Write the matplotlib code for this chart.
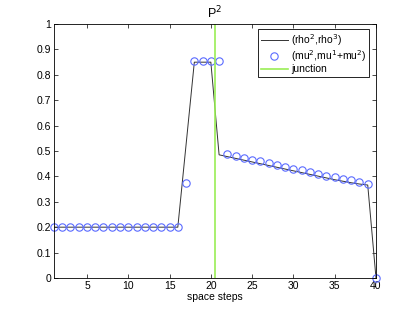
import matplotlib
matplotlib.use("Agg")
import matplotlib.pyplot as plt

plt.rcParams["font.family"] = ["Liberation Sans", "DejaVu Sans"]
plt.rcParams["font.size"] = 7.5

# line series (rho^2, rho^3)
line_x = [1, 2, 3, 4, 5, 6, 7, 8, 9, 10, 11, 12, 13, 14, 15, 16, 17, 18, 19, 20,
          21, 22, 23, 24, 25, 26, 27, 28, 29, 30, 31, 32, 33, 34, 35, 36, 37, 38, 39, 40]
line_y = [0.2] * 16 + [0.525, 0.85, 0.85, 0.85,
          0.485, 0.478, 0.471, 0.464, 0.457, 0.450, 0.443, 0.436, 0.429, 0.422,
          0.415, 0.408, 0.401, 0.394, 0.387, 0.381, 0.375, 0.370, 0.366, 0.0]

# marker series (mu^2, mu^1+mu^2)
mark_x = line_x
mark_y = [0.2] * 16 + [0.375, 0.855, 0.855, 0.855, 0.855,
          0.487, 0.480, 0.473, 0.466, 0.459, 0.452, 0.445, 0.438, 0.431,
          0.424, 0.417, 0.410, 0.403, 0.396, 0.390, 0.384, 0.377, 0.370, 0.0]

junction_x = 20.5

fig = plt.figure(figsize=(4.15, 3.13), dpi=100)
ax = fig.add_axes([0.130, 0.112, 0.776, 0.811])

ax.plot(line_x, line_y, color="#333333", linewidth=0.7, label="(rho$^2$,rho$^3$)")
ax.plot(mark_x, mark_y, linestyle="none", marker="o", markersize=5.3,
        markerfacecolor="none", markeredgecolor="#5a6bff", markeredgewidth=0.8,
        label="(mu$^2$,mu$^1$+mu$^2$)", clip_on=False)
ax.axvline(junction_x, color="#99ee55", linewidth=1.2, label="junction")

ax.set_xlim(1, 40)
ax.set_ylim(0, 1)
ax.set_xticks([5, 10, 15, 20, 25, 30, 35, 40])
ax.set_yticks([0, 0.1, 0.2, 0.3, 0.4, 0.5, 0.6, 0.7, 0.8, 0.9, 1])
ax.set_yticklabels(["0", "0.1", "0.2", "0.3", "0.4", "0.5", "0.6", "0.7", "0.8", "0.9", "1"])
ax.tick_params(direction="in", top=True, right=True, length=3, width=0.5, pad=2)
for s in ax.spines.values():
    s.set_linewidth(0.6)

ax.set_xlabel("space steps", labelpad=1)
ax.set_title("P$^2$", pad=4)

leg = ax.legend(loc="upper right", fancybox=False, framealpha=1, edgecolor="black",
                borderpad=0.25, handlelength=2.6, handletextpad=0.3, labelspacing=0.05,
                borderaxespad=0, bbox_to_anchor=(0.978, 0.98))
leg.get_frame().set_linewidth(0.6)

fig.savefig("out.png", dpi=100, facecolor="white")
